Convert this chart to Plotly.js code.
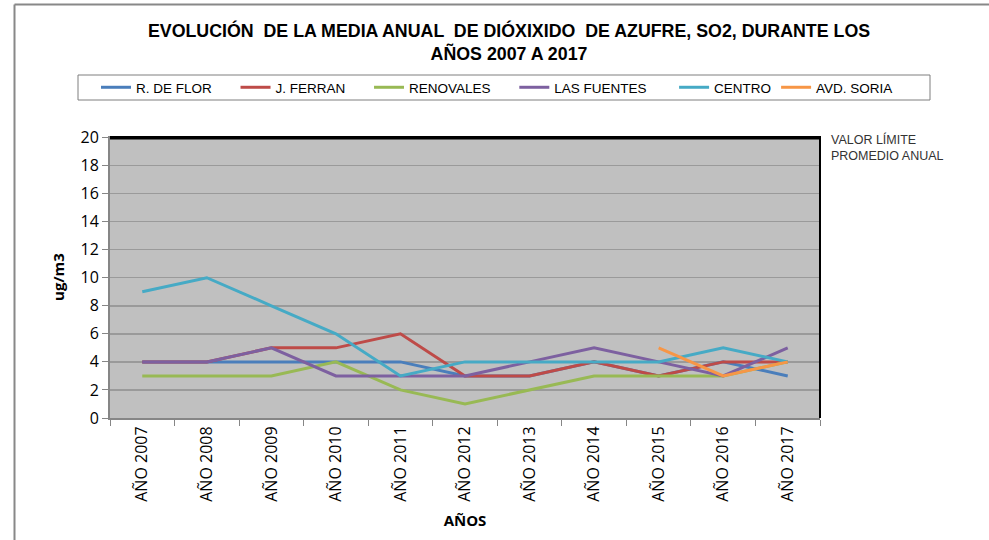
<!DOCTYPE html>
<html>
<head>
<meta charset="utf-8">
<script src="https://cdn.plot.ly/plotly-3.0.1.min.js"></script>
<style>html,body{margin:0;padding:0;background:#fff;}#chart{width:989px;height:540px;}</style>
</head>
<body>
<div id="chart"></div>
<script>
const years = ["AÑO 2007","AÑO 2008","AÑO 2009","AÑO 2010","AÑO 2011","AÑO 2012","AÑO 2013","AÑO 2014","AÑO 2015","AÑO 2016","AÑO 2017"];
const rDeFlor    = [4,4,4,4,4,3,3,4,3,4,3];
const jFerran    = [4,4,5,5,6,3,3,4,3,4,4];
const renovales  = [3,3,3,4,2,1,2,3,3,3,4];
const lasFuentes = [4,4,5,3,3,3,4,5,4,3,5];
const centro     = [9,10,8,6,3,4,4,4,4,5,4];
const avdSoria   = [null,null,null,null,null,null,null,null,5,3,4];
const limitValue = 20;
const yTicks = [0,2,4,6,8,10,12,14,16,18,20];

const seriesNames = ["R. DE FLOR","J. FERRAN","RENOVALES","LAS FUENTES","CENTRO","AVD. SORIA"];
const seriesData = [rDeFlor, jFerran, renovales, lasFuentes, centro, avdSoria];
const colors = ["#4a7ebb","#be4b48","#98b954","#7d60a0","#46aac5","#f79646"];
const legendPad = [5,5,5,6,0,0];

const traces = seriesNames.map((n,i)=>({
  type:"scatter", mode:"lines", name:n + "\u00a0".repeat(legendPad[i]), x:years, y:seriesData[i],
  line:{color:colors[i], width:3}, connectgaps:false, hoverinfo:"skip"
}));

const H = 282, W = 710, L = 110, T = 136;
const py = px => (T + H - px) / H;   // pixel row -> paper y
const pxx = px => (px - L) / W;      // pixel col -> paper x

const layout = {
  width:989, height:540,
  paper_bgcolor:"#ffffff", plot_bgcolor:"#c0c0c0",
  margin:{l:110, r:169, t:136, b:122, pad:0},
  font:{family:"Liberation Sans, Arial, sans-serif", color:"#000"},
  title:{text:"<b>EVOLUCIÓN  DE LA MEDIA ANUAL  DE DIÓXIXIDO  DE AZUFRE, SO2, DURANTE LOS<br>AÑOS 2007 A 2017</b>",
    font:{family:"Liberation Sans, Arial, sans-serif", size:17.8, color:"#000"},
    x:pxx(509), xref:"paper", xanchor:"center", y:1-37/540, yref:"container", yanchor:"middle"},
  showlegend:true,
  legend:{orientation:"h", x:pxx(96), xanchor:"left", y:py(87.5), yanchor:"middle",
    borderwidth:0, bgcolor:"rgba(0,0,0,0)",
    font:{family:"Liberation Sans, Arial, sans-serif", size:13.5, color:"#000"}, itemwidth:30},
  xaxis:{type:"category", tickvals:years, ticktext:years, tickangle:-90,
    tickfont:{family:"Open Sans, sans-serif", size:16, color:"#000"},
    ticks:"outside", tickson:"boundaries", ticklen:6, tickcolor:"#868686", tickwidth:1,
    showline:true, linecolor:"#868686", linewidth:2, showgrid:false, zeroline:false,
    range:[-0.5,10.5],
    title:{text:"<b>AÑOS</b>", font:{family:"Open Sans, sans-serif", size:15, color:"#000"}, standoff:15}},
  yaxis:{range:[0,20.1], tickvals:yTicks, ticktext:yTicks.map(String),
    tickfont:{family:"Open Sans, sans-serif", size:16, color:"#000"},
    ticks:"outside", ticklen:6, tickcolor:"#868686", tickwidth:1,
    showline:true, linecolor:"#868686", linewidth:2,
    showgrid:true, gridcolor:"#9a9a9a", gridwidth:1.5, zeroline:false,
    title:{text:"<b>ug/m3</b>", font:{family:"Open Sans, sans-serif", size:15, color:"#000"}, standoff:12}},
  shapes:[
    {type:"line", xref:"paper", yref:"y", x0:0, x1:1, y0:limitValue, y1:limitValue, line:{color:"#000", width:4}},
    {type:"line", xref:"paper", yref:"paper", x0:1, x1:1, y0:0, y1:1, line:{color:"#000", width:2}},
    {type:"rect", xref:"paper", yref:"paper", x0:pxx(78), x1:pxx(930), y0:py(100), y1:py(75), line:{color:"#7f7f7f", width:1}},
    {type:"line", xref:"paper", yref:"paper", x0:pxx(14.5), x1:pxx(995), y0:py(4.5), y1:py(4.5), line:{color:"#888", width:2}},
    {type:"line", xref:"paper", yref:"paper", x0:pxx(14.5), x1:pxx(14.5), y0:py(4.5), y1:py(545), line:{color:"#888", width:2}}
  ],
  annotations:[
    {text:"VALOR LÍMITE<br>PROMEDIO ANUAL", xref:"paper", yref:"paper", x:pxx(829), y:py(130), xanchor:"left", yanchor:"top",
     align:"left", showarrow:false, font:{family:"Liberation Sans, Arial, sans-serif", size:12.5, color:"#333"}}
  ]
};
Plotly.newPlot("chart", traces, layout, {displayModeBar:false, staticPlot:true});
</script>
</body>
</html>
